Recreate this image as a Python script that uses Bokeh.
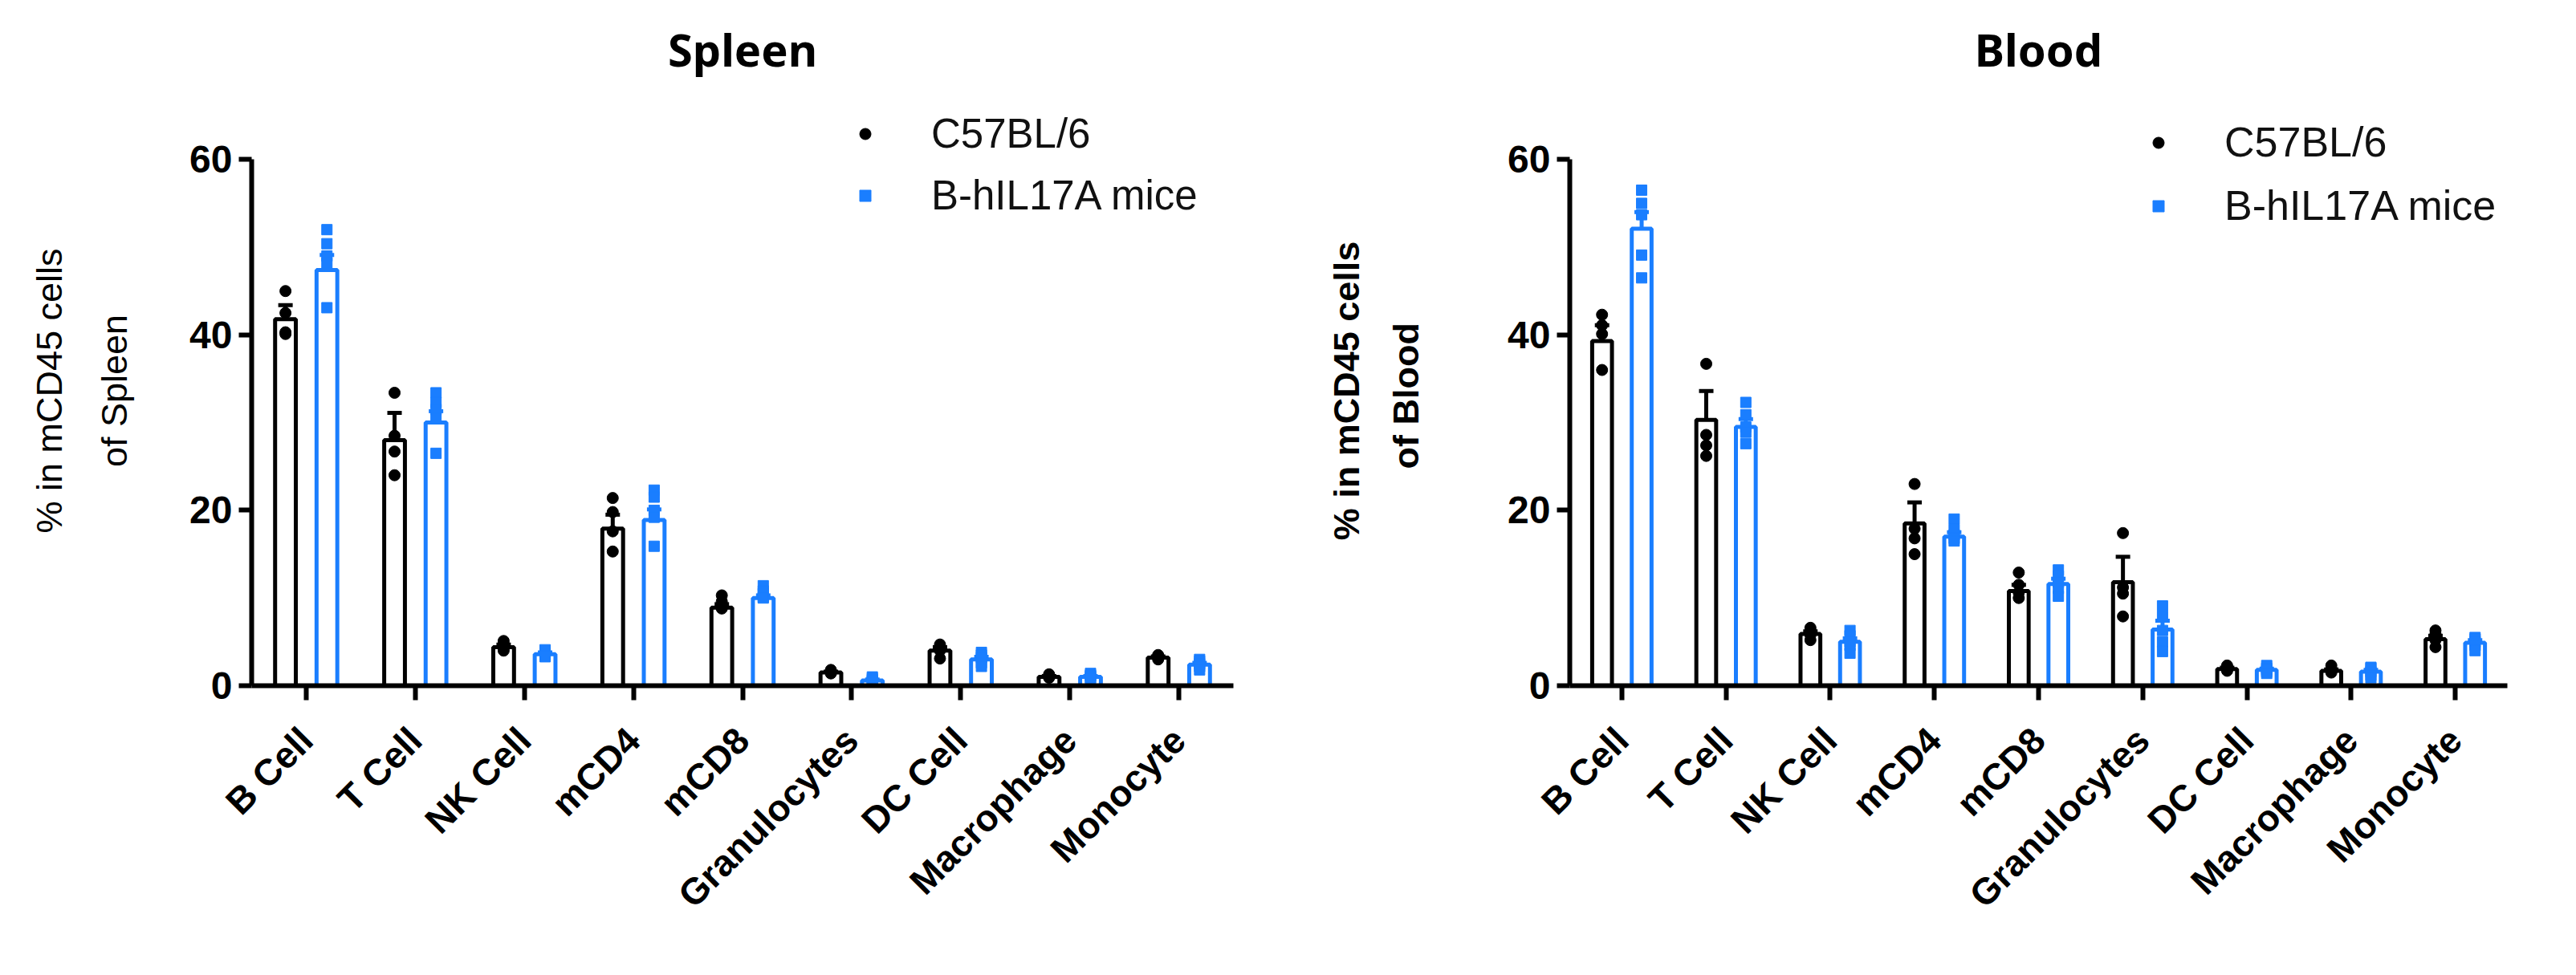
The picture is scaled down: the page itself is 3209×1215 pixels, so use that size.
import math
from bokeh.plotting import figure
from bokeh.models import (ColumnDataSource, Range1d, FixedTicker, Whisker, TeeHead,
                          Legend, LegendItem)
from bokeh.transform import dodge
from bokeh.layouts import row
from bokeh.embed import file_html
from bokeh.resources import INLINE

categories = ["B Cell", "T Cell", "NK Cell", "mCD4", "mCD8",
              "Granulocytes", "DC Cell", "Macrophage", "Monocyte"]
group_names = ["C57BL/6", "B-hIL17A mice"]
y_ticks = [0, 20, 40, 60]
y_axis_max = 60

# ---- Spleen ----
spleen_wt_mean = [41.8, 28.0, 4.4, 17.9, 8.9, 1.5, 4.0, 1.0, 3.2]
spleen_wt_sem = [1.6, 3.1, 0.3, 1.6, 0.4, 0.1, 0.4, 0.1, 0.15]
spleen_wt_pts = [
    [45.0, 42.5, 40.3, 40.1],
    [33.4, 28.5, 26.7, 24.0],
    [5.1, 4.7, 4.3, 4.0],
    [21.4, 19.8, 17.6, 15.3],
    [10.3, 9.6, 9.0, 8.8],
    [1.8, 1.6, 1.5, 1.4],
    [4.7, 4.4, 4.0, 3.1],
    [1.3, 1.1, 1.0, 0.9],
    [3.5, 3.3, 3.2, 3.0],
]
spleen_hm_mean = [47.4, 30.0, 3.6, 18.9, 10.0, 0.6, 3.0, 1.0, 2.4]
spleen_hm_sem = [1.7, 1.3, 0.2, 1.2, 0.3, 0.1, 0.3, 0.1, 0.2]
spleen_hm_pts = [
    [52.0, 50.4, 49.0, 48.2, 43.1],
    [33.4, 32.3, 31.5, 30.5, 26.5],
    [4.1, 3.9, 3.7, 3.4, 3.3],
    [22.3, 21.5, 20.0, 19.2, 15.9],
    [11.4, 10.8, 10.5, 10.1, 10.0],
    [1.0, 0.8, 0.6, 0.5, 0.4],
    [3.8, 3.5, 3.2, 2.6, 2.2],
    [1.4, 1.2, 1.1, 0.9, 0.8],
    [3.0, 2.8, 2.5, 2.2, 1.8],
]

# ---- Blood ----
blood_wt_mean = [39.3, 30.3, 5.9, 18.5, 10.8, 11.8, 1.9, 1.7, 5.3]
blood_wt_sem = [1.8, 3.3, 0.3, 2.4, 0.7, 2.9, 0.15, 0.15, 0.4]
blood_wt_pts = [
    [42.3, 41.1, 40.1, 36.0],
    [36.7, 28.6, 27.4, 26.2],
    [6.6, 6.3, 5.8, 5.2],
    [23.0, 17.9, 16.8, 15.0],
    [12.9, 11.5, 10.6, 10.0],
    [17.4, 11.2, 10.5, 7.9],
    [2.3, 2.1, 1.9, 1.7],
    [2.3, 1.9, 1.7, 1.5],
    [6.3, 5.9, 5.2, 4.4],
]
blood_hm_mean = [52.1, 29.5, 5.0, 17.0, 11.6, 6.4, 1.8, 1.6, 4.9]
blood_hm_sem = [1.9, 0.9, 0.4, 0.5, 0.6, 1.0, 0.15, 0.2, 0.3]
blood_hm_pts = [
    [56.5, 55.0, 53.7, 49.1, 46.5],
    [32.3, 30.9, 29.5, 28.9, 27.6],
    [6.3, 5.7, 5.0, 4.6, 3.7],
    [19.0, 17.8, 17.2, 16.8, 16.5],
    [13.2, 12.5, 11.8, 11.1, 10.2],
    [9.1, 7.9, 6.3, 5.0, 3.9],
    [2.3, 2.0, 1.8, 1.6, 1.4],
    [2.1, 2.0, 1.6, 1.2, 0.9],
    [5.5, 5.3, 5.0, 4.6, 4.0],
]

BLACK = "#000000"
BLUE = "#1A7EFF"
OFFSET = 0.19
BAR_W = 0.19
Y_VIEW_TOP = 67.25   # headroom above the 0..60 axis holds the legend


def make_panel(title, ylabel, ylabel_bold, ylabel_lh, ylabel_standoff,
               wt, hm, width, height, borders, leg_font, leg_lh,
               leg_spacing, leg_loc, leg_standoff):
    bl, br, bt, bb = borders
    p = figure(x_range=categories, y_range=Range1d(0, Y_VIEW_TOP), width=width,
               height=height, output_backend="svg", toolbar_location=None,
               min_border_left=bl, min_border_right=br, min_border_top=bt,
               min_border_bottom=bb)
    p.outline_line_color = None
    p.xgrid.grid_line_color = None
    p.ygrid.grid_line_color = None
    p.background_fill_color = "white"
    p.border_fill_color = "white"

    p.title.text = title
    p.title.align = "center"
    p.title.text_font = "Noto Sans"
    p.title.text_font_style = "bold"
    p.title.text_font_size = "56px"
    p.title.text_color = BLACK
    p.title.standoff = 41

    handles = []
    for (mean, sem, pts), off, color, marker, msize in [
        (wt, -OFFSET, BLACK, "circle", 14),
        (hm, OFFSET, BLUE, "square", 13),
    ]:
        src = ColumnDataSource(dict(cat=categories, mean=mean,
                                    upper=[m + s for m, s in zip(mean, sem)],
                                    lower=[m - s for m, s in zip(mean, sem)]))
        p.vbar(x=dodge("cat", off, range=p.x_range), top="mean", bottom=0, width=BAR_W,
               source=src, fill_color="white", line_color=color, line_width=5)
        w = Whisker(source=src, base=dodge("cat", off, range=p.x_range),
                    upper="upper", lower="lower", line_color=color, line_width=5,
                    upper_head=TeeHead(size=18, line_color=color, line_width=5),
                    lower_head=TeeHead(size=18, line_color=color, line_width=5))
        p.add_layout(w)
        pc, pv = [], []
        for c, vals in zip(categories, pts):
            for v in vals:
                pc.append(c)
                pv.append(v)
        psrc = ColumnDataSource(dict(cat=pc, val=pv))
        r = p.scatter(x=dodge("cat", off, range=p.x_range), y="val", source=psrc,
                      marker=marker, size=msize, fill_color=color, line_color=color)
        handles.append(r)

    legend = Legend(items=[LegendItem(label=group_names[0], renderers=[handles[0]]),
                           LegendItem(label=group_names[1], renderers=[handles[1]])],
                    location=leg_loc, orientation="vertical",
                    glyph_width=35, glyph_height=35, label_height=leg_lh,
                    spacing=leg_spacing, label_standoff=leg_standoff, padding=10,
                    margin=0, border_line_color=None, background_fill_alpha=0,
                    label_text_font="Liberation Sans", label_text_font_size=leg_font,
                    label_text_color="#111111")
    p.add_layout(legend)

    ya = p.yaxis[0]
    ya.ticker = FixedTicker(ticks=y_ticks)
    ya.bounds = (0, y_axis_max)
    ya.axis_line_width = 6
    ya.axis_line_color = BLACK
    ya.major_tick_line_width = 6
    ya.major_tick_line_color = BLACK
    ya.major_tick_out = 16
    ya.major_tick_in = 0
    ya.minor_tick_line_color = None
    ya.major_label_text_font = "Liberation Sans"
    ya.major_label_text_font_style = "bold"
    ya.major_label_text_font_size = "48px"
    ya.major_label_text_color = BLACK
    ya.major_label_standoff = 8
    ya.axis_label = ylabel
    ya.axis_label_text_font = "Liberation Sans"
    ya.axis_label_text_font_style = "bold" if ylabel_bold else "normal"
    ya.axis_label_text_font_size = "45px"
    ya.axis_label_text_color = BLACK
    ya.axis_label_text_line_height = ylabel_lh
    ya.axis_label_standoff = ylabel_standoff

    xa = p.xaxis[0]
    xa.axis_line_width = 6
    xa.axis_line_color = BLACK
    xa.major_tick_line_width = 6
    xa.major_tick_line_color = BLACK
    xa.major_tick_out = 18
    xa.major_tick_in = 0
    xa.minor_tick_line_color = None
    xa.major_label_orientation = math.pi / 4
    xa.major_label_text_font = "Liberation Sans"
    xa.major_label_text_font_style = "bold"
    xa.major_label_text_font_size = "46px"
    xa.major_label_text_color = BLACK
    xa.major_label_standoff = 42
    return p


p1 = make_panel("Spleen", "% in mCD45 cells\nof Spleen", False, 1.6, 65,
                (spleen_wt_mean, spleen_wt_sem, spleen_wt_pts),
                (spleen_hm_mean, spleen_hm_sem, spleen_hm_pts),
                1596, 1199, (313, 60, 112, 345), "51px", 56, 18, (747, 581), 65)
p2 = make_panel("Blood", "% in mCD45 cells\nof  Blood", True, 1.45, 98,
                (blood_wt_mean, blood_wt_sem, blood_wt_pts),
                (blood_hm_mean, blood_hm_sem, blood_hm_pts),
                1594, 1199, (359, 67, 112, 345), "52px", 58, 19, (716, 568), 65)

layout = row(p1, p2)
open("out.html", "w").write(file_html(layout, INLINE))
